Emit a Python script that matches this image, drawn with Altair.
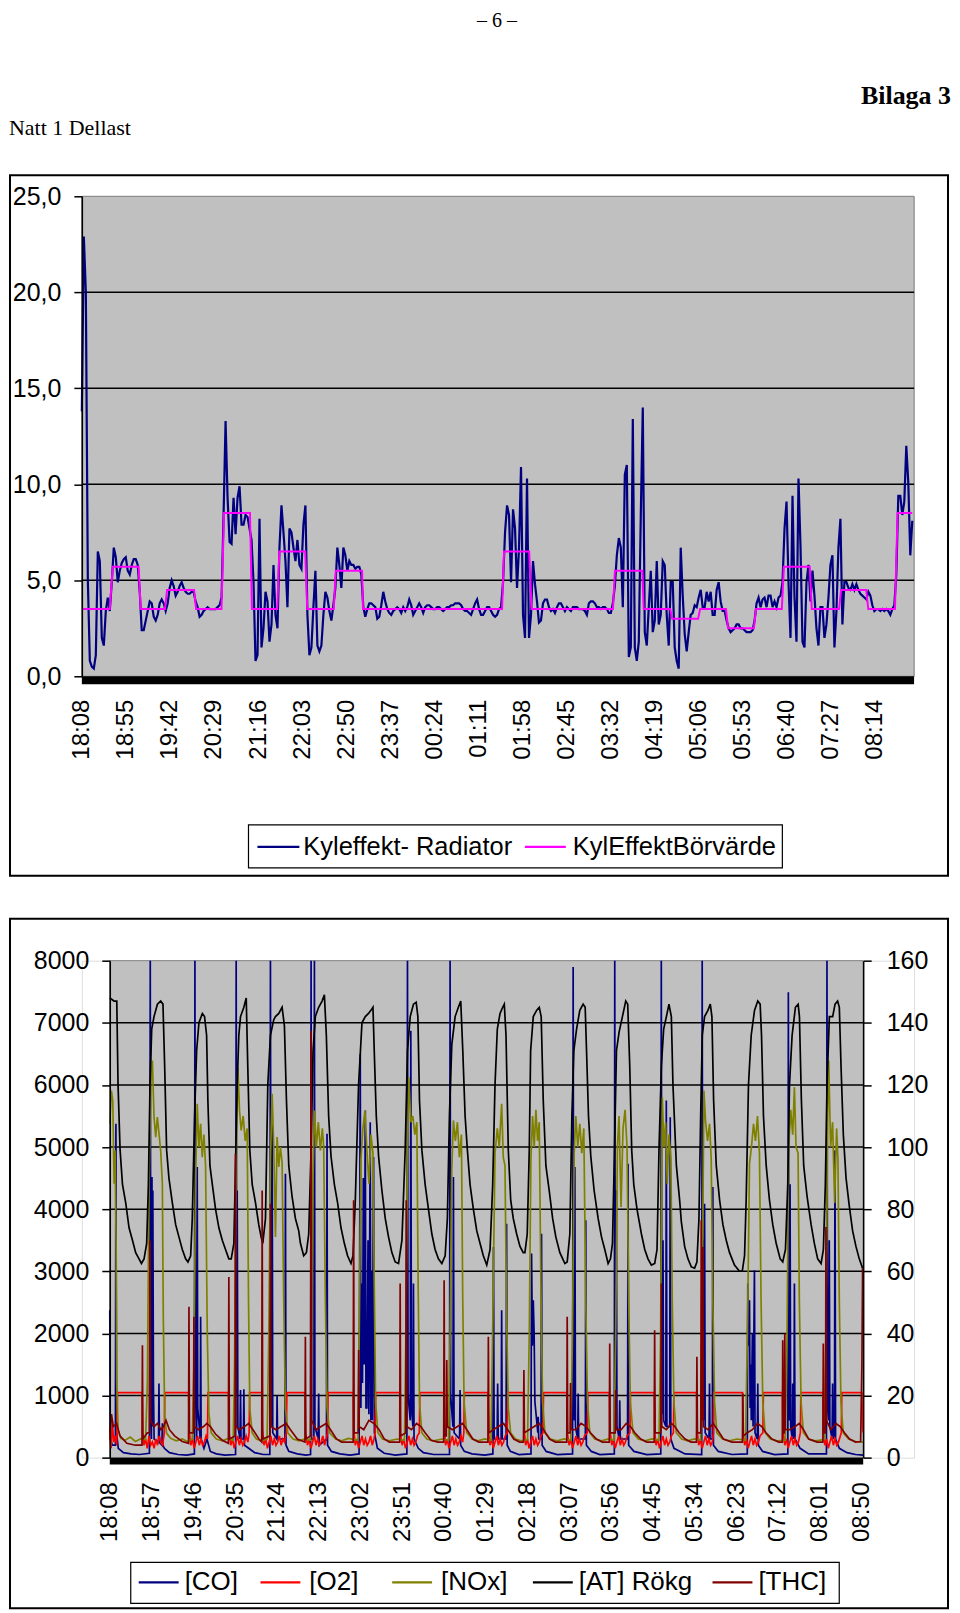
import altair as alt
import pandas as pd

# ---------------- page texts ----------------
PAGE_NUMBER = "– 6 –"
APPENDIX_LABEL = "Bilaga 3"
RUN_LABEL = "Natt 1 Dellast"

# ---------------- chart 1: cooling power ----------------
KYL_SERIES = ["Kyleffekt- Radiator", "KylEffektBörvärde"]
KYL_COLORS = ["#000080", "#ff00ff"]
KYL_TIME_LABELS = ["18:08", "18:55", "19:42", "20:29", "21:16", "22:03", "22:50", "23:37",
                   "00:24", "01:11", "01:58", "02:45", "03:32", "04:19", "05:06", "05:53",
                   "06:40", "07:27", "08:14"]
KYL_LABEL_STEP_MIN = 47
KYL_SAMPLE_MIN = 2.13
KYL_END_MIN = 888
KYL_Y_TICKS = [0, 5, 10, 15, 20, 25]

KYL_RADIATOR = [
    13.8, 22.9, 20.0, 5.0, 0.8, 0.5, 0.4, 1.1, 6.5, 6.0,
    2.0, 1.6, 3.4, 4.1, 3.4, 4.9, 6.7, 6.2, 4.9, 5.5,
    5.9, 6.1, 6.2, 5.5, 5.3, 5.8, 6.1, 6.1, 5.8, 4.4,
    2.4, 2.4, 2.9, 3.4, 3.9, 3.8, 3.1, 2.9, 3.2, 3.8,
    4.0, 3.8, 3.4, 3.8, 4.6, 5.0, 4.7, 4.2, 4.4, 4.7,
    4.9, 4.6, 4.4, 4.3, 4.3, 4.4, 4.4, 3.9, 3.6, 3.1,
    3.2, 3.4, 3.5, 3.6, 3.5, 3.5, 3.5, 3.5, 3.6, 3.7,
    4.1, 8.4, 13.3, 9.3, 7.0, 6.9, 9.3, 7.4, 9.3, 9.9,
    7.9, 7.9, 8.4, 8.3, 7.7, 7.1, 4.9, 0.8, 1.1, 8.2,
    1.5, 2.5, 4.4, 3.9, 1.8, 2.7, 5.8, 3.2, 2.5, 6.7,
    8.9, 7.5, 6.0, 3.6, 7.7, 7.5, 6.7, 6.0, 7.1, 5.8,
    5.6, 7.9, 8.9, 3.2, 1.1, 1.5, 3.6, 5.5, 1.6, 1.3,
    1.6, 3.2, 4.4, 4.1, 3.4, 2.9, 3.7, 4.6, 6.7, 5.8,
    4.6, 6.7, 6.3, 5.5, 6.0, 5.8, 5.8, 5.6, 5.7, 5.7,
    5.3, 3.6, 3.1, 3.5, 3.8, 3.8, 3.7, 3.6, 3.0, 3.1,
    3.7, 4.4, 3.9, 3.5, 3.3, 3.2, 3.4, 3.5, 3.6, 3.5,
    3.3, 3.6, 3.4, 3.6, 4.0, 3.7, 3.2, 3.4, 3.6, 3.8,
    3.6, 3.3, 3.6, 3.7, 3.7, 3.6, 3.5, 3.5, 3.6, 3.6,
    3.5, 3.4, 3.5, 3.6, 3.6, 3.7, 3.7, 3.8, 3.8, 3.8,
    3.7, 3.5, 3.4, 3.4, 3.3, 3.2, 3.5, 3.8, 4.0, 3.5,
    3.2, 3.2, 3.4, 3.6, 3.6, 3.4, 3.2, 3.1, 3.2, 3.5,
    3.6, 4.9, 7.5, 8.9, 8.4, 4.9, 8.7, 7.7, 4.6, 6.7,
    10.9, 3.2, 2.0, 10.3, 2.0, 3.2, 6.0, 4.8, 3.9, 2.8,
    2.9, 3.8, 4.0, 4.0, 3.6, 3.4, 3.5, 3.3, 3.6, 3.8,
    3.8, 3.6, 3.4, 3.6, 3.5, 3.4, 3.6, 3.6, 3.6, 3.5,
    3.5, 3.5, 3.4, 3.2, 3.8, 3.9, 3.9, 3.8, 3.6, 3.6,
    3.5, 3.6, 3.6, 3.5, 3.3, 3.3, 3.8, 4.7, 6.3, 7.2,
    6.7, 3.6, 10.5, 11.0, 1.0, 1.5, 13.4, 1.5, 0.8, 1.8,
    8.4, 14.0, 2.3, 1.6, 3.6, 5.5, 2.3, 2.9, 6.0, 2.7,
    3.2, 6.0, 5.8, 3.2, 1.6, 4.9, 4.9, 1.5, 0.8, 0.4,
    6.7, 4.2, 2.2, 1.3, 2.3, 3.2, 3.3, 3.7, 3.6, 4.1,
    4.5, 3.6, 3.6, 4.4, 3.9, 4.4, 3.2, 3.2, 4.5, 4.9,
    3.9, 3.4, 3.4, 2.9, 2.5, 2.3, 2.4, 2.5, 2.7, 2.7,
    2.5, 2.5, 2.4, 2.3, 2.3, 2.3, 2.4, 2.9, 3.8, 4.1,
    3.6, 4.0, 4.1, 3.6, 4.2, 4.2, 3.6, 3.9, 3.6, 4.1,
    4.2, 4.9, 7.7, 9.1, 4.9, 2.0, 9.4, 4.1, 1.8, 10.3,
    6.8, 1.8, 1.5, 4.9, 5.8, 3.9, 5.5, 4.2, 2.5, 1.6,
    3.6, 3.6, 2.0, 2.7, 4.1, 5.8, 6.3, 1.5, 3.4, 6.7,
    8.2, 2.7, 4.9, 4.9, 4.6, 4.5, 4.8, 4.5, 4.8, 4.5,
    4.3, 4.2, 4.1, 4.0, 4.4, 4.2, 3.7, 3.4, 3.5, 3.5,
    3.4, 3.5, 3.4, 3.5, 3.4, 3.2, 3.5, 3.7, 5.3, 9.4,
    9.4, 8.4, 9.1, 12.0, 10.1, 6.3, 8.1,
]

KYL_SETPOINT_T = [0, 29.8, 33.0, 60.6, 62.8, 88.7, 90.9, 119.8, 121.9, 149.0, 151.7, 179.4,
                  181.5, 208.5, 210.7, 238.3, 240.5, 268.8, 270.9, 299.0, 300.0, 448.4,
                  450.5, 477.3, 479.9, 566.7, 568.8, 598.0, 599.5, 627.8, 629.9, 657.6,
                  659.7, 687.3, 689.5, 717.1, 719.3, 746.9, 749.1, 776.7, 778.8, 808.0,
                  810.1, 836.9, 839.1, 867.6, 870.4, 886.0]
KYL_SETPOINT_V = [3.5, 3.5, 5.7, 5.7, 3.5, 3.5, 4.5, 4.5, 3.5, 3.5, 8.5, 8.5,
                  3.5, 3.5, 6.5, 6.5, 3.5, 3.5, 5.5, 5.5, 3.5, 3.5,
                  6.5, 6.5, 3.5, 3.5, 5.5, 5.5, 3.5, 3.5, 3.0, 3.0,
                  3.5, 3.5, 2.5, 2.5, 3.5, 3.5, 5.7, 5.7, 3.5, 3.5,
                  4.5, 4.5, 3.5, 3.5, 8.5, 8.5]

# ---------------- chart 2: emissions ----------------
GAS_SERIES = ["[CO]", "[O2]", "[NOx]", "[AT] Rökg", "[THC]"]
GAS_COLORS = ["#000080", "#ff0000", "#808000", "#000000", "#800000"]
GAS_TIME_LABELS = ["18:08", "18:57", "19:46", "20:35", "21:24", "22:13", "23:02", "23:51",
                   "00:40", "01:29", "02:18", "03:07", "03:56", "04:45", "05:34", "06:23",
                   "07:12", "08:01", "08:50"]
GAS_LABEL_STEP_MIN = 49
GAS_END_MIN = 884
LEFT_TICKS = [0, 1000, 2000, 3000, 4000, 5000, 6000, 7000, 8000]
RIGHT_TICKS = [0, 20, 40, 60, 80, 100, 120, 140, 160]

CO = [(0, 2373), (0.6, 300), (3, 200), (6.6, 200), (7.2, 5374), (7.9, 400), (10, 150), (16, 80), (25, 60), (35, 50), (46.5, 70),
      (47.5, 8000), (48.2, 800), (48.9, 300), (49.5, 4517), (50.1, 500), (50.5, 4302), (51.2, 1195), (52, 300), (57.2, 250), (57.7, 1195), (58.3, 250), (61.2, 200), (61.7, 552), (62.3, 200), (64, 150), (70, 80), (80, 50), (90, 40), (99.3, 60),
      (99.9, 8000), (100.5, 1500), (102, 300), (102.6, 4677), (103.2, 800), (106.1, 300), (106.6, 2266), (107.2, 300), (110.5, 150), (114, 300), (118, 100), (125, 60), (135, 40), (147.6, 50),
      (148.3, 8000), (149, 1000), (149.5, 4302), (150.3, 500), (152.8, 300), (153.4, 1088), (154, 300), (156.8, 300), (157.3, 1100), (158, 200), (163, 150), (170, 80), (180, 50), (187.8, 50),
      (188.5, 8000), (189.2, 1000), (190, 500), (190.5, 5695), (191.2, 400), (195.8, 300), (196.3, 1000), (196.9, 300), (205.5, 300), (206.1, 4570), (206.8, 200), (210, 100), (220, 60), (230, 40), (235.6, 50),
      (236.2, 8000), (236.8, 300), (239.5, 300), (240.1, 8000), (240.7, 500), (244.5, 300), (245.1, 1034), (245.7, 200), (254.3, 300), (254.9, 5213), (255.5, 200), (260, 100), (270, 60), (282, 40), (292.5, 60),
      (293.9, 6499), (294.6, 800), (295.9, 2802), (296.5, 1200), (297.5, 4500), (298.5, 1500), (299.8, 5588), (300.6, 800), (301.7, 800), (303, 3500), (304, 700), (305.6, 5400), (306.3, 600), (307, 3000), (308, 600), (309.5, 4838), (310.5, 400), (314, 150), (322, 70), (335, 40), (348.6, 60),
      (349.3, 8000), (350, 1000), (352.5, 600), (353.2, 6874), (354, 800), (355.7, 500), (356.3, 2802), (357, 300), (362, 150), (368, 80), (380, 50), (398.6, 50),
      (399.3, 8000), (400, 1000), (402.6, 500), (403.2, 4517), (404, 400), (410.4, 300), (411, 1088), (411.7, 200), (416, 100), (425, 60), (440, 40), (449.5, 60),
      (450.2, 3392), (451, 300), (454.5, 300), (455.1, 1195), (455.8, 300), (459.2, 300), (459.8, 2373), (460.5, 300), (465, 300), (465.6, 3767), (466.3, 200), (470, 100), (480, 50), (494.2, 60),
      (494.9, 3285), (495.9, 1800), (496.9, 2534), (497.9, 2000), (498.8, 900), (502.2, 400), (502.7, 659), (503.3, 300), (506, 300), (506.6, 3606), (507.3, 200), (512, 100), (525, 50), (543, 60),
      (543.7, 7900), (544.4, 900), (545.1, 600), (545.7, 4677), (546.4, 500), (549, 300), (549.6, 1034), (550.2, 300), (558, 300), (558.5, 3820), (559.2, 200), (565, 100), (575, 50), (592, 60),
      (592.5, 8000), (593.2, 900), (593.8, 600), (594.4, 4302), (595.1, 500), (597.8, 300), (598.3, 925), (599, 300), (607.5, 300), (608.1, 4731), (608.8, 200), (615, 100), (630, 50), (646.5, 60),
      (647.1, 8000), (647.8, 900), (648.5, 700), (649.1, 3500), (649.8, 600), (652.4, 500), (653.0, 5749), (653.7, 500), (657, 500), (657.6, 5481), (658.3, 300), (662, 150), (675, 60), (694.5, 50),
      (695.1, 8000), (695.8, 900), (696.7, 3500), (697.3, 600), (697.9, 4088), (698.6, 400), (703.1, 300), (703.7, 1195), (704.3, 300), (707, 300), (707.6, 4356), (708.3, 200), (714, 100), (730, 50), (748, 60),
      (748.6, 2802), (749.6, 1800), (750.6, 2534), (751.3, 800), (752, 1500), (752.7, 600), (754, 2000), (754.8, 500), (756.4, 3017), (757.1, 400), (759.7, 300), (760.3, 1195), (761, 200), (766, 100), (780, 50), (795.6, 60),
      (796.2, 7490), (796.9, 800), (797.6, 600), (798.2, 4400), (798.9, 500), (800.7, 300), (801.3, 1195), (802, 300), (802.7, 400), (803.3, 2802), (804, 300), (810, 150), (820, 60), (840.9, 60),
      (841.5, 8000), (842.2, 900), (843.6, 600), (844.2, 3500), (844.9, 500), (847.5, 300), (848.1, 1195), (848.8, 300), (850.3, 400), (850.9, 4945), (851.6, 300), (856, 150), (865, 80), (875, 50), (884, 40)]

O2 = [(0, 8), (1.5, 3), (3, 12), (4.5, 5), (6, 7), (8, 4), (9, 20.9),
      (38, 20.9), (38.6, 8), (40, 4), (42, 6), (44, 3), (46, 7), (48, 4), (50, 5), (52, 3), (54, 6), (56, 4), (58, 7), (60, 5), (62, 4), (64, 8), (64.6, 20.9),
      (92.5, 20.9), (93.1, 9), (95, 4), (97, 6), (99, 3), (101, 5), (103, 7), (105, 4), (107, 6), (109, 4), (111, 5), (113, 7), (114.6, 6), (115.2, 20.9),
      (139.3, 20.9), (139.9, 8), (142, 4), (144, 6), (146, 3), (148, 5), (150, 7), (152, 4), (154, 6), (156, 4), (158, 5), (160, 7), (162, 5), (163.5, 8), (164.1, 20.9),
      (178.4, 20.9), (179, 9), (181, 4), (183, 6), (185, 3), (187, 5), (189, 7), (191, 4), (193, 6), (195, 4), (197, 5), (199, 7), (201, 4), (203, 6), (205, 5), (207.2, 8), (207.8, 20.9),
      (229.1, 20.9), (229.7, 8), (232, 4), (234, 6), (236, 3), (238, 5), (240, 7), (242, 4), (244, 6), (246, 4), (248, 5), (250, 7), (252, 4), (254, 6), (255.4, 8), (256, 20.9),
      (285.7, 20.9), (286.3, 9), (288, 4), (290, 6), (292, 3), (294, 5), (296, 7), (298, 4), (300, 6), (302, 4), (304, 5), (306, 7), (308, 4), (310, 6), (311.4, 8), (312, 20.9),
      (340.3, 20.9), (340.9, 8), (343, 4), (345, 6), (347, 3), (349, 5), (351, 7), (353, 4), (355, 6), (357, 4), (359, 5), (361, 7), (363.2, 8), (363.8, 20.9),
      (391.9, 20.9), (392.5, 9), (394, 4), (396, 6), (398, 3), (400, 5), (402, 7), (404, 4), (406, 6), (408, 4), (410, 5), (412, 7), (414, 5), (415.4, 8), (416, 20.9),
      (443.8, 20.9), (444.4, 8), (446, 4), (448, 6), (450, 3), (452, 5), (454, 7), (456, 4), (458, 6), (460, 4), (462, 5), (464, 7), (466.3, 8), (466.9, 20.9),
      (485.5, 20.9), (486.1, 9), (488, 4), (490, 6), (492, 3), (494, 5), (496, 7), (498, 4), (500, 6), (502, 4), (504, 5), (506, 7), (508.3, 8), (508.9, 20.9),
      (536.3, 20.9), (536.9, 8), (539, 4), (541, 6), (543, 3), (545, 5), (547, 7), (549, 4), (551, 6), (553, 4), (555, 5), (557, 7), (560.3, 8), (560.9, 20.9),
      (586.2, 20.9), (586.8, 9), (589, 4), (591, 6), (593, 3), (595, 5), (597, 7), (599, 4), (601, 6), (603, 4), (605, 5), (607, 7), (610.3, 8), (610.9, 20.9),
      (638.9, 20.9), (639.5, 8), (641, 4), (643, 6), (645, 3), (647, 5), (649, 7), (651, 4), (653, 6), (655, 4), (657, 5), (659, 7), (661.3, 8), (661.9, 20.9),
      (688.5, 20.9), (689.1, 9), (691, 4), (693, 6), (695, 3), (697, 5), (699, 7), (701, 4), (703, 6), (705, 4), (707, 5), (708.3, 8), (708.9, 20.9),
      (742.4, 20.9), (743, 8), (745, 4), (747, 6), (749, 3), (751, 5), (753, 7), (755, 4), (757, 6), (759, 4), (761, 5), (763, 7), (766.3, 8), (766.9, 20.9),
      (789.2, 20.9), (789.8, 9), (792, 4), (794, 6), (796, 3), (798, 5), (800, 7), (802, 4), (804, 6), (806, 4), (808, 5), (810.3, 8), (810.9, 20.9),
      (836.8, 20.9), (837.4, 8), (839, 4), (841, 6), (843, 3), (845, 5), (847, 7), (849, 4), (851, 6), (853, 4), (855, 5), (858.3, 8), (858.9, 20.9),
      (882.5, 20.9), (883.2, 10), (884, 8)]

NOX = [(0, 5374), (1.9, 5910), (3.5, 5749), (5.1, 4410), (6.2, 4945), (7.4, 3500), (8.2, 1195), (9.8, 445), (12.9, 311), (18, 280), (24, 330), (30, 260), (36, 300), (42, 290),
       (44.1, 1195), (46.1, 4410), (48.0, 6017), (50.0, 6392), (51.9, 5481), (53.9, 5160), (55.8, 5481), (57.8, 5213), (59.7, 4945), (61.7, 4410), (62.8, 2266), (64.4, 659), (66.7, 391), (71.4, 311), (78, 270), (85, 300), (91, 260), (96.8, 300),
       (98.7, 1500), (100.7, 4500), (102.6, 5695), (104.6, 5000), (106.6, 5374), (108.5, 4838), (110.5, 5200), (112.4, 4700), (114.4, 2000), (116.3, 700), (119.0, 400), (125, 300), (132, 270), (139, 310), (144.8, 280),
       (146.4, 1500), (148.3, 4800), (150.3, 6285), (152.2, 5588), (154.2, 5267), (156.5, 5500), (158.9, 5100), (161.2, 5300), (162.8, 2500), (164.3, 800), (167.0, 400), (172, 300), (178, 270), (184.6, 300),
       (186.6, 2000), (188.5, 4800), (190.5, 5856), (192.4, 5000), (194.4, 3552), (196.3, 5160), (198.3, 4678), (200.2, 5000), (202.2, 4750), (204.1, 2500), (206.1, 800), (208.8, 400), (215, 300), (222, 270), (229, 300), (235.4, 280),
       (237.0, 2000), (238.5, 4500), (240.1, 5588), (242.4, 5000), (244.7, 5400), (247.1, 4945), (249.4, 5300), (251.0, 5000), (253.0, 2500), (254.9, 800), (258.0, 400), (265, 300), (272, 270), (280, 310), (291.2, 280),
       (292.7, 2000), (294.7, 4800), (297.0, 5300), (299.4, 5588), (301.7, 4945), (304.1, 4410), (306.4, 5200), (308.8, 4900), (310.3, 2800), (311.9, 900), (314.6, 400), (320, 300), (328, 270), (337, 300), (345.8, 280),
       (347.4, 2000), (349.3, 5000), (350.9, 6124), (353.2, 5400), (355.6, 5500), (357.9, 5200), (360.3, 5400), (361.8, 2800), (363.4, 900), (366.1, 400), (372, 300), (380, 270), (390, 300), (397.7, 280),
       (399.3, 2000), (401.2, 4600), (403.2, 5428), (405.5, 5100), (407.9, 5400), (410.2, 4838), (412.6, 5200), (414.1, 2600), (415.7, 900), (418.8, 400), (425, 300), (432, 270), (440, 300), (447.3, 280),
       (449.2, 2000), (452.0, 4900), (454.7, 5300), (457.0, 5000), (459.8, 5695), (461.7, 4838), (463.7, 4700), (465.6, 2300), (467.6, 800), (470.3, 400), (476, 300), (483, 270), (490.2, 290),
       (492.2, 2000), (494.1, 4800), (496.1, 5500), (498.0, 5000), (500.0, 5600), (501.9, 5100), (503.9, 5400), (505.8, 2800), (507.8, 900), (510.5, 400), (517, 300), (525, 270), (533, 300), (540.9, 280),
       (542.9, 2000), (544.9, 4900), (546.8, 5500), (549.1, 5000), (551.5, 5374), (553.8, 4900), (556.2, 5300), (558.5, 2500), (560.5, 900), (563.2, 400), (569, 300), (577, 270), (585, 300), (591.7, 280),
       (593.6, 2000), (595.6, 5000), (597.5, 5500), (599.9, 4035), (602.2, 5300), (604.6, 5600), (606.9, 5000), (608.9, 2500), (610.8, 900), (613.9, 400), (620, 300), (628, 270), (636, 300), (644.4, 280),
       (646.3, 2000), (648.3, 5803), (650.2, 5000), (652.2, 5400), (654.1, 4400), (656.1, 5200), (658.4, 4800), (660.0, 2500), (661.9, 900), (664.7, 400), (671, 300), (678, 270), (686, 300), (693.2, 280),
       (695.1, 2500), (697.1, 5910), (699.1, 5400), (701.4, 5100), (703.7, 5374), (705.7, 4800), (707.6, 2500), (709.6, 900), (712.3, 400), (719, 300), (727, 270), (736, 300), (745.9, 280),
       (748.2, 2000), (750.6, 4731), (752.9, 5000), (755.3, 5374), (757.6, 5100), (760.0, 5500), (762.3, 4900), (764.2, 2500), (766.2, 900), (768.9, 400), (775, 300), (783, 270), (792.7, 280),
       (794.7, 2000), (796.6, 5000), (799.0, 5600), (801.3, 5200), (803.3, 5964), (805.2, 5000), (807.6, 4900), (809.1, 2500), (811.1, 900), (813.8, 400), (820, 300), (828, 270), (838.4, 290),
       (840.3, 2000), (842.3, 5500), (843.5, 6392), (845.8, 5000), (848.1, 5400), (850.5, 4100), (852.8, 5300), (854.4, 4800), (856.0, 2500), (857.9, 900), (860.6, 400), (867, 300), (875, 260), (884, 250)]

AT = [(0, 148), (5, 147), (8.2, 147), (9.7, 120), (12.1, 99), (14.9, 88), (18.7, 82), (22.6, 74), (26.6, 70), (30.4, 66), (34.3, 64), (37.1, 62.5), (40.2, 64), (43.3, 69),
      (45.3, 88), (47.2, 120), (49.2, 138), (51.9, 142), (55.9, 146), (59.7, 147), (62.4, 146), (64.4, 126), (66.7, 99), (69.4, 90), (73.4, 82), (77.3, 75), (81.2, 71), (85.1, 67), (89.0, 64), (91.7, 63), (94.9, 65),
      (96.8, 77), (99.5, 110), (101.9, 131), (104.6, 140), (108.6, 143), (111.2, 142), (113.6, 136), (115.1, 115), (117.5, 94), (120.3, 88), (124.1, 80), (128.0, 74), (132.0, 70), (135.8, 67), (139.7, 64), (142.5, 64), (145.6, 69),
      (147.5, 94), (149.5, 120), (151.4, 136), (153.4, 142), (157.3, 145), (160.1, 148), (161.9, 126), (164.3, 99), (167.1, 88), (171.0, 82), (174.8, 75), (177.6, 71), (179.5, 69),
      (182.7, 77), (185.4, 120), (188.5, 136), (192.4, 141), (194.4, 142), (198.3, 143), (202.2, 145), (204.9, 139), (207.3, 115), (210.0, 94), (213.9, 84), (217.8, 77), (221.7, 73), (223.7, 69), (227.5, 65), (230.7, 66), (233.4, 72),
      (236.2, 99), (238.5, 131), (241.2, 142), (245.1, 145), (249.1, 147), (251.8, 149), (254.1, 136), (256.8, 110), (259.6, 97), (263.5, 88), (267.3, 82), (271.3, 74), (275.2, 69), (279.0, 65), (283.0, 62.5), (285.4, 65),
      (288.1, 83), (291.9, 120), (295.9, 140), (299.8, 142), (303.6, 143), (306.4, 144), (308.8, 145), (310.3, 131), (312.7, 110), (315.4, 97), (319.3, 86), (323.2, 77), (327.1, 71), (331.0, 66), (334.9, 63), (338.8, 62.5),
      (342.8, 70), (346.6, 99), (349.3, 131), (352.5, 142), (356.3, 146), (359.5, 146.6), (361.5, 142), (363.4, 115), (366.2, 99), (370.0, 88), (373.9, 80), (377.9, 72), (381.7, 67), (385.6, 64), (389.6, 62.5), (393.5, 65),
      (396.1, 77), (398.5, 110), (401.3, 133), (405.2, 142), (409.0, 145), (411.8, 147), (414.2, 131), (416.9, 110), (419.6, 99), (422.7, 88), (426.6, 80), (430.6, 73), (434.4, 69), (438.3, 65), (442.3, 62),
      (446.2, 67), (449.3, 88), (452.0, 120), (454.7, 138), (457.9, 143), (461.0, 145), (462.9, 146), (464.9, 136), (467.6, 99), (470.4, 83), (473.4, 77), (477.4, 72), (481.3, 68), (485.1, 66), (487.1, 66),
      (489.8, 72), (492.2, 99), (493.8, 131), (496.9, 142), (500.8, 144), (503.9, 145), (506.2, 142), (508.6, 115), (511.7, 94), (515.6, 86), (519.6, 77), (523.4, 71), (528.1, 66), (534.0, 62.5), (536.7, 63),
      (539.8, 72), (542.2, 110), (544.5, 131), (547.7, 138), (551.5, 144), (555.4, 146), (557.8, 145), (559.4, 131), (561.7, 110), (564.4, 97), (568.3, 86), (573.0, 77), (577.0, 71), (580.8, 67), (584.7, 62.5), (587.5, 64),
      (589.8, 69), (592.2, 99), (594.5, 131), (597.6, 137), (601.5, 142), (605.4, 147), (607.7, 146), (610.1, 126), (612.4, 99), (614.8, 88), (618.6, 80), (623.8, 72), (627.7, 67), (631.5, 64), (635.5, 62), (639.4, 62.5),
      (642.1, 67), (644.4, 99), (647.2, 126), (649.9, 138), (653.1, 142), (656.1, 146), (658.9, 142), (660.8, 120), (664.8, 94), (668.6, 83), (670.6, 76), (674.5, 68), (678.4, 64), (682.3, 61.4), (686.2, 61), (688.9, 63),
      (691.3, 77), (693.3, 110), (695.2, 136), (697.9, 142), (701.8, 144), (704.6, 146), (706.5, 142), (708.5, 115), (711.6, 94), (715.5, 83), (719.4, 75), (723.3, 70), (727.2, 66), (733.0, 62), (738.9, 60), (742.1, 60),
      (744.8, 65), (746.7, 83), (749.4, 120), (752.6, 136), (756.5, 144), (760.3, 147), (763.1, 146), (764.7, 136), (767.0, 110), (770.2, 94), (774.0, 83), (777.9, 75), (781.9, 69), (786.6, 64), (789.6, 63),
      (792.8, 67), (795.5, 88), (797.5, 120), (800.6, 136), (804.5, 145), (807.7, 146), (809.2, 142), (811.5, 115), (814.2, 94), (818.2, 84), (822.9, 75), (826.7, 69), (830.6, 64), (834.6, 62.5),
      (837.3, 67), (839.6, 88), (841.6, 120), (844.3, 142), (848.2, 142), (851.0, 146), (854.0, 147), (856.0, 145), (858.0, 126), (860.7, 104), (863.9, 90), (867.7, 81), (871.6, 73), (875.5, 68), (879.4, 64), (883.3, 61)]

THC = [(0, 400), (2, 700), (4, 500), (8, 550), (12, 350), (20, 230), (30, 200), (37.8, 200), (38.3, 1811), (38.8, 300), (44, 400), (46.7, 400), (47.2, 3499), (47.8, 600), (52, 500), (56, 550), (60, 450), (63, 500), (66, 600), (70, 450), (76, 350), (85, 260), (92.4, 230),
       (92.9, 2427), (93.5, 400), (98.2, 400), (98.7, 2266), (99.3, 500), (104, 450), (110, 500), (114, 550), (118, 500), (124, 380), (132, 280), (139.2, 230),
       (139.7, 2909), (140.3, 300), (147, 350), (147.5, 4892), (148.1, 500), (152, 450), (158, 500), (163, 550), (168, 450), (175, 300), (178.3, 250),
       (178.8, 4302), (179.4, 300), (188, 350), (188.5, 4088), (189.1, 500), (195, 450), (201, 500), (207, 550), (212, 450), (220, 300), (229, 250),
       (229.5, 1945), (230, 300), (235.6, 350), (236.2, 6874), (236.8, 600), (242, 450), (248, 500), (254, 550), (259, 450), (266, 300), (272, 250), (285.6, 250),
       (286.1, 4142), (286.7, 400), (291.5, 400), (292, 1731), (292.6, 500), (298, 450), (304, 600), (310, 550), (316, 450), (322, 300), (328, 250), (340.2, 250),
       (340.7, 2802), (341.3, 350), (347.3, 400), (347.8, 4142), (348.4, 500), (354, 450), (360, 550), (365, 500), (370, 400), (377, 280), (385, 250), (391.8, 250),
       (392.3, 2856), (392.9, 350), (394.9, 350), (395.4, 1570), (396, 500), (402, 450), (408, 500), (414, 550), (419, 450), (426, 300), (433, 250), (443.7, 250),
       (444.2, 1945), (444.8, 400), (450, 450), (456, 500), (462, 550), (467, 450), (474, 300), (481, 250), (485.4, 250),
       (485.9, 1409), (486.5, 400), (492, 450), (498, 500), (504, 550), (509, 450), (516, 300), (523, 250), (536.2, 250),
       (536.7, 2266), (537.3, 400), (540.1, 400), (540.6, 1200), (541.2, 450), (547, 450), (553, 550), (559, 500), (564, 400), (571, 300), (578, 250), (586.1, 250),
       (586.6, 1838), (587.2, 400), (593.1, 400), (593.6, 1088), (594.2, 450), (600, 450), (606, 550), (611, 500), (616, 400), (623, 300), (630, 250), (638.8, 250),
       (639.3, 2052), (639.9, 400), (646.6, 400), (647.1, 2802), (647.7, 500), (653, 450), (659, 550), (663, 500), (668, 400), (675, 300), (682, 250), (688.4, 250),
       (688.9, 1623), (689.5, 400), (693.5, 400), (694, 3820), (694.6, 800), (695.3, 600), (695.9, 3392), (696.5, 500), (702, 450), (708, 550), (713, 450), (720, 300), (730, 250), (742.3, 250),
       (742.8, 1034), (743.4, 350), (748, 400), (754, 450), (760, 550), (765, 500), (770, 400), (777, 300), (785, 250), (789.1, 250),
       (789.6, 1891), (790.2, 400), (791.5, 400), (792, 2000), (792.6, 450), (798, 450), (804, 500), (809, 550), (814, 450), (820, 300), (830, 250), (836.7, 250),
       (837.2, 1838), (837.8, 400), (839.8, 400), (840.3, 3713), (840.9, 600), (846, 450), (852, 550), (857, 500), (862, 400), (868, 300), (875, 250), (881, 260), (882.5, 1500), (883.3, 3017), (884, 3000)]

# ---------------- layout (pixels) ----------------
W = 834          # shared view width
H1 = 481         # plot height chart 1
H2 = 498         # plot height chart 2
P2_L, P2_R = 28, 783   # plot area of chart 2 inside its view
GAP = 285
SANS = "Liberation Sans"
SERIF = "Liberation Serif"


def js_array(items):
    return "[" + ",".join("'" + s + "'" for s in items) + "]"


def rect(x0, x1, y0, y1, **mk):
    return alt.Chart(pd.DataFrame({"k": [0]})).mark_rect(**mk).encode(
        x=alt.value(x0), x2=alt.value(x1), y=alt.value(y0), y2=alt.value(y1))


def text(label, x, y, **mk):
    return alt.Chart(pd.DataFrame({"label": [label]})).mark_text(**mk).encode(
        x=alt.value(x), y=alt.value(y), text="label:N")


def legend_entry(name, scale, sx0, sx1, tx, cy, size):
    d = pd.DataFrame({"series": [name]})
    sym = alt.Chart(d).mark_rule(strokeWidth=2.2).encode(
        x=alt.value(sx0), x2=alt.value(sx1), y=alt.value(cy),
        color=alt.Color("series:N", scale=scale, legend=None))
    lab = alt.Chart(d).mark_text(align="left", baseline="middle", fontSize=size,
                                 font=SANS, color="black").encode(
        x=alt.value(tx), y=alt.value(cy), text="series:N")
    return [sym, lab]


def y_axis(values, orient, offset, label_expr=None, fmt=None, pad=13):
    kw = dict(values=values, orient=orient, offset=offset, grid=False,
              domainColor="black", domainWidth=1.5, tickColor="black", tickWidth=1.5,
              tickSize=8, labelFontSize=25, labelFont=SANS, labelColor="black",
              labelPadding=pad, title=None, labelFlush=False, labelOverlap=False, zindex=1)
    if label_expr:
        kw["labelExpr"] = label_expr
    if fmt:
        kw["format"] = fmt
    return alt.Axis(**kw)


def x_axis(labels, step, pad):
    return alt.Axis(values=[i * step for i in range(len(labels))],
                    labelExpr=js_array(labels) + "[round(datum.value / " + str(step) + ")]",
                    labelAngle=270, labelFontSize=24, labelFont=SANS, labelColor="black",
                    labelPadding=pad, domain=False, ticks=False, grid=False, title=None,
                    labelOverlap=False, labelFlush=False)


# ---------------- chart 1 ----------------
kyl_scale = alt.Scale(domain=KYL_SERIES, range=KYL_COLORS)
x1 = alt.X("t:Q", scale=alt.Scale(domain=[0, KYL_END_MIN], nice=False, zero=False),
           axis=x_axis(KYL_TIME_LABELS, KYL_LABEL_STEP_MIN, 23))
y1 = alt.Y("v:Q", scale=alt.Scale(domain=[0, 25], nice=False),
           axis=y_axis(KYL_Y_TICKS, "left", 0,
                       label_expr="replace(format(datum.value, '.1f'), '.', ',')"))

kyl_df = pd.DataFrame({"t": [i * KYL_SAMPLE_MIN for i in range(len(KYL_RADIATOR))],
                       "v": KYL_RADIATOR, "series": KYL_SERIES[0]})
set_df = pd.DataFrame({"t": KYL_SETPOINT_T, "v": KYL_SETPOINT_V, "series": KYL_SERIES[1]})
grid1_df = pd.DataFrame({"v": KYL_Y_TICKS[1:-1]})

c1_layers = [
    rect(-73, -72, -186, -185, opacity=0),
    rect(0, W, 0, H1, fill="#c0c0c0", stroke="#808080", strokeWidth=1),
    alt.Chart(grid1_df).mark_rule(color="black", strokeWidth=1.5).encode(
        x=alt.value(0), x2=alt.value(W), y=y1),
    alt.Chart(kyl_df).mark_line(strokeWidth=2.2).encode(
        x=x1, y=y1, color=alt.Color("series:N", scale=kyl_scale, legend=None)),
    alt.Chart(set_df).mark_line(strokeWidth=2).encode(
        x=x1, y=y1, color=alt.Color("series:N", scale=kyl_scale, legend=None)),
    rect(0, W, H1, H1 + 8, color="black"),
    rect(-72, 868, -21, 681, fillOpacity=0, stroke="black", strokeWidth=2),
    rect(167, 702, 630, 673, fill="white", stroke="black", strokeWidth=1.2),
    *legend_entry(KYL_SERIES[0], kyl_scale, 176, 218, 222, 652, 25.5),
    *legend_entry(KYL_SERIES[1], kyl_scale, 444, 485, 492, 652, 25.5),
    text(PAGE_NUMBER, 416, -170, align="center", baseline="alphabetic", fontSize=20,
         font=SERIF, color="black"),
    text(APPENDIX_LABEL, 871, -92, align="right", baseline="alphabetic", fontSize=26,
         font=SERIF, fontWeight="bold", color="black"),
    text(RUN_LABEL, -73, -61, align="left", baseline="alphabetic", fontSize=22,
         font=SERIF, color="black"),
]
chart1 = alt.layer(*c1_layers).properties(width=W, height=H1)

# ---------------- chart 2 ----------------
gas_scale = alt.Scale(domain=GAS_SERIES, range=GAS_COLORS)
x2 = alt.X("t:Q", scale=alt.Scale(domain=[0, GAS_END_MIN], range=[P2_L, P2_R], nice=False, zero=False),
           axis=x_axis(GAS_TIME_LABELS, GAS_LABEL_STEP_MIN, 24))
left_scale = alt.Scale(domain=[0, 8000], nice=False)
right_scale = alt.Scale(domain=[0, 160], nice=False)


def gas_df(points, name):
    return pd.DataFrame(points, columns=["t", "v"]).assign(series=name)


def gas_line(points, name, scale, axis=None):
    y = alt.Y("v:Q", scale=scale, axis=axis)
    return alt.Chart(gas_df(points, name)).mark_line(strokeWidth=1.7).encode(
        x=x2, y=y, color=alt.Color("series:N", scale=gas_scale, legend=None))


grid2_df = pd.DataFrame({"v": LEFT_TICKS[1:-1]})
c2_layers = [
    rect(P2_L, P2_R, 0, H2, fill="#c0c0c0", stroke="#808080", strokeWidth=1),
    alt.Chart(grid2_df).mark_rule(color="black", strokeWidth=1.5).encode(
        x=alt.value(P2_L), x2=alt.value(P2_R),
        y=alt.Y("v:Q", scale=left_scale, axis=None)),
    gas_line(CO, GAS_SERIES[0], left_scale, y_axis(LEFT_TICKS, "left", -P2_L, fmt="d")),
    gas_line(O2, GAS_SERIES[1], right_scale),
    gas_line(NOX, GAS_SERIES[2], left_scale),
    gas_line(AT, GAS_SERIES[3], right_scale,
             y_axis(RIGHT_TICKS, "right", -(W - P2_R), fmt="d", pad=15)),
    gas_line(THC, GAS_SERIES[4], left_scale),
    rect(P2_L, P2_R, H2, H2 + 7, color="black"),
    rect(-72, 868, -42, 649, fillOpacity=0, stroke="black", strokeWidth=2),
    rect(49, 759, 603, 644, fill="white", stroke="black", strokeWidth=1.2),
    *legend_entry(GAS_SERIES[0], gas_scale, 57, 97, 103, 623, 26),
    *legend_entry(GAS_SERIES[1], gas_scale, 179, 219, 228, 623, 26),
    *legend_entry(GAS_SERIES[2], gas_scale, 311, 351, 360, 623, 26),
    *legend_entry(GAS_SERIES[3], gas_scale, 452, 492, 498, 623, 26),
    *legend_entry(GAS_SERIES[4], gas_scale, 632, 672, 678, 623, 26),
]
chart2 = alt.layer(*c2_layers).resolve_scale(y="independent").properties(width=W, height=H2)

chart = (
    alt.vconcat(chart1, chart2, spacing=GAP, bounds="flush")
    .resolve_scale(x="independent", y="independent", color="independent")
    .configure_view(stroke=None)
    .configure(font=SANS)
    .properties(padding=0, background="white")
)

chart.save("out.html", embed_options={"renderer": "svg", "actions": False})
